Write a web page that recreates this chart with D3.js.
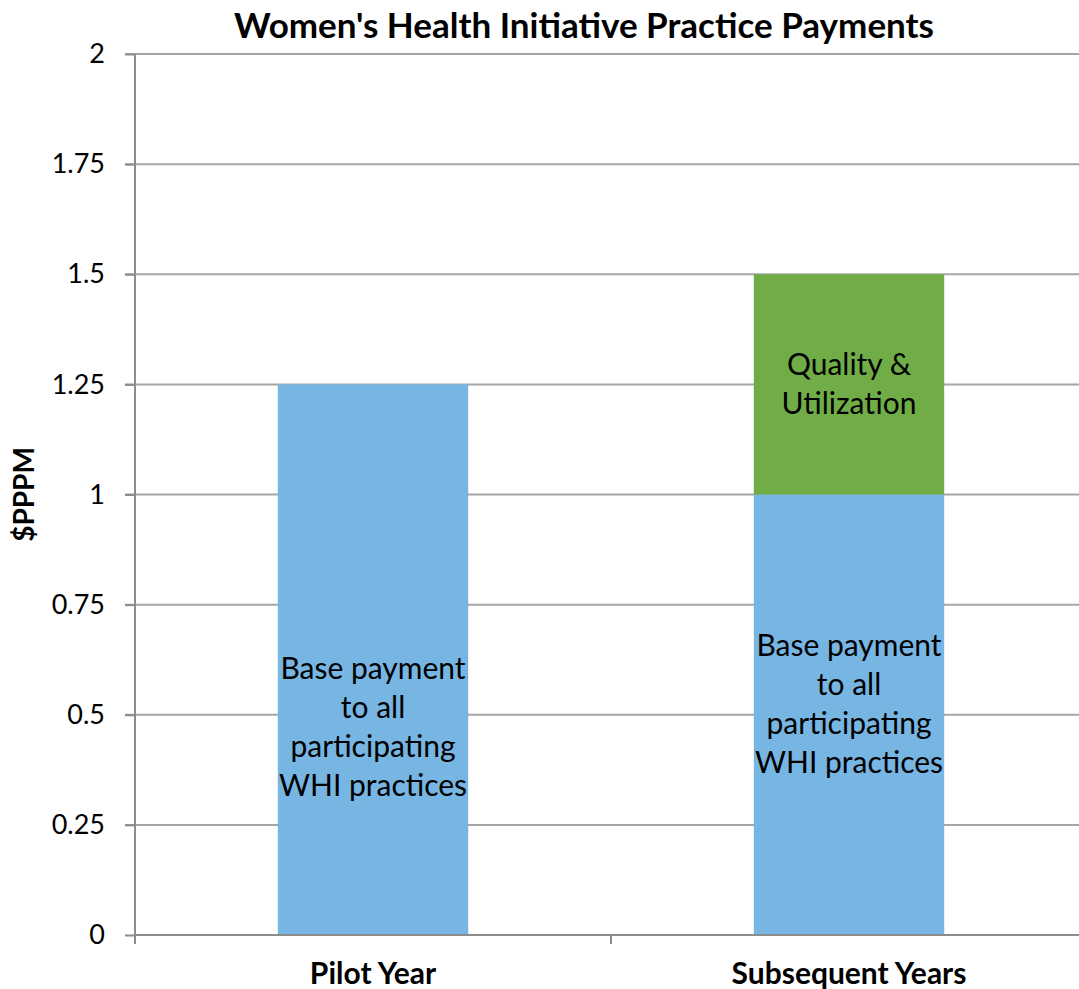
<!DOCTYPE html>
<html>
<head>
<meta charset="utf-8">
<script src="https://cdn.jsdelivr.net/npm/d3@7"></script>
<style>
  body { margin: 0; background: #fff; }
  svg { display: block; font-family: Lato, "Open Sans", sans-serif; }
</style>
</head>
<body>
<div class="chart"></div>
<script>
const categories = ["Pilot Year", "Subsequent Years"];
const seriesNames = ["Base", "Quality"];
const baseValues = [1.25, 1];
const qualityValues = [0, 0.5];
const seriesLabels = [
  ["Base payment", "to all", "participating", "WHI practices"],
  ["Quality &", "Utilization"]
];
const yTicks = [0, 0.25, 0.5, 0.75, 1, 1.25, 1.5, 1.75, 2];
const colors = ["#77b5e3", "#70ad47"];

const width = 1079;
const height = 989;
const margin = { top: 54, right: -8, bottom: 54, left: 135 };

const svg = d3.select('.chart')
  .append('svg')
  .attr('width', width)
  .attr('height', height);

const yScale = d3.scaleLinear()
  .domain([0, 2])
  .range([height - margin.bottom, margin.top]);

const xScale = d3.scaleBand()
  .domain(categories)
  .range([margin.left, width - margin.right])
  .paddingInner(0)
  .paddingOuter(0);

const barW = xScale.bandwidth() * 0.4;

// gridlines
svg.append('g')
  .selectAll('line')
  .data(yTicks.filter(d => d > 0))
  .join('line')
  .attr('x1', margin.left - 10)
  .attr('x2', width)
  .attr('y1', d => yScale(d))
  .attr('y2', d => yScale(d))
  .attr('stroke', '#a6a6a6')
  .attr('stroke-width', 2);

// stacked data
const stacked = d3.stack().keys(seriesNames)(
  categories.map((c, i) => ({ cat: c, Base: baseValues[i], Quality: qualityValues[i] }))
);

const layers = svg.append('g')
  .selectAll('g')
  .data(stacked)
  .join('g')
  .attr('fill', (d, i) => colors[i]);

layers.selectAll('rect')
  .data(d => d.filter(p => p[1] > p[0]))
  .join('rect')
  .attr('x', d => xScale(d.data.cat) + xScale.bandwidth() / 2 - barW / 2)
  .attr('width', barW)
  .attr('y', d => yScale(d[1]))
  .attr('height', d => yScale(d[0]) - yScale(d[1]));

// y axis
const yAxis = svg.append('g')
  .attr('transform', `translate(${margin.left},0)`)
  .call(d3.axisLeft(yScale).tickValues(yTicks).tickSize(10).tickPadding(20).tickFormat(d => d));
yAxis.selectAll('line').attr('stroke', '#8c8c8c').attr('stroke-width', 2);
yAxis.select('.domain').attr('stroke', '#8c8c8c').attr('stroke-width', 2).attr('d', `M0,${yScale(2)}V${yScale(0)}`);
yAxis.selectAll('text')
  .attr('font-size', 27)
  .attr('fill', '#000')
  .attr('font-family', 'Lato, sans-serif');

// x axis
const xAxis = svg.append('g')
  .attr('transform', `translate(0,${yScale(0)})`);
xAxis.append('line')
  .attr('x1', margin.left).attr('x2', width)
  .attr('stroke', '#8c8c8c').attr('stroke-width', 2);
xAxis.selectAll('line.tick')
  .data(categories)
  .join('line')
  .attr('class', 'tick')
  .attr('x1', d => xScale(d)).attr('x2', d => xScale(d))
  .attr('y1', 0).attr('y2', 9)
  .attr('stroke', '#8c8c8c').attr('stroke-width', 2);
xAxis.selectAll('text')
  .data(categories)
  .join('text')
  .attr('x', d => xScale(d) + xScale.bandwidth() / 2)
  .attr('y', 49)
  .attr('text-anchor', 'middle')
  .attr('font-size', 30)
  .attr('font-weight', 'bold')
  .text(d => d);

// bar labels (pilot label sits a bit lower, as in the original)
const labelShift = { "Pilot Year": 68, "Subsequent Years": -10 };
const lineH = 39;
stacked.forEach((layer, li) => {
  layer.forEach(p => {
    if (p[1] <= p[0]) return;
    const lines = seriesLabels[li];
    const cx = xScale(p.data.cat) + xScale.bandwidth() / 2;
    let cy = yScale((p[0] + p[1]) / 2);
    if (li === 0) cy += labelShift[p.data.cat];
    const t = svg.append('text')
      .attr('text-anchor', 'middle')
      .attr('font-size', 30)
      .attr('fill', '#000');
    lines.forEach((l, k) => {
      t.append('tspan')
        .attr('x', cx)
        .attr('y', cy + (k - (lines.length - 1) / 2) * lineH + 10)
        .text(l);
    });
  });
});

// title
svg.append('text')
  .attr('x', 584)
  .attr('y', 38)
  .attr('text-anchor', 'middle')
  .attr('font-size', 35)
  .attr('font-weight', 'bold')
  .text("Women's Health Initiative Practice Payments");

// y axis title
svg.append('text')
  .attr('transform', `translate(34,${yScale(1)}) rotate(-90)`)
  .attr('text-anchor', 'middle')
  .attr('font-size', 28)
  .attr('font-weight', 'bold')
  .text('$PPPM');
</script>
</body>
</html>
